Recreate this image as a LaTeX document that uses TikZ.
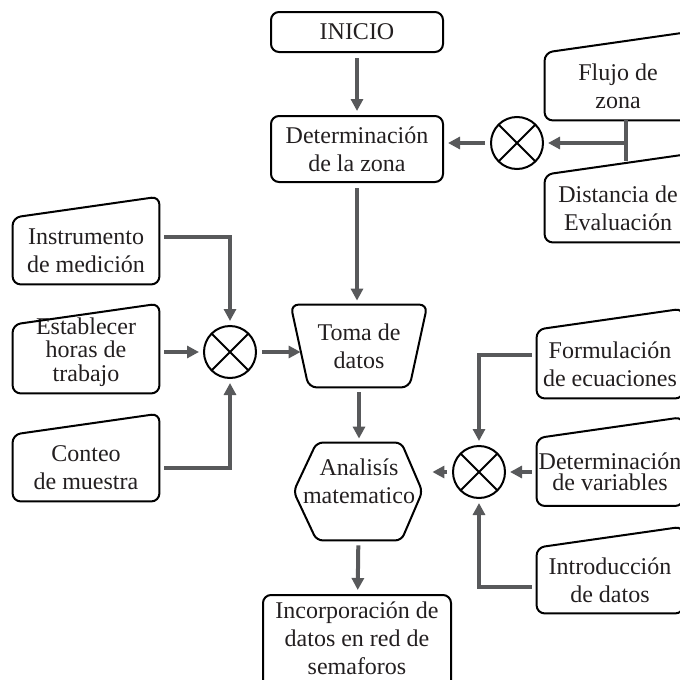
\documentclass[tikz,border=0pt]{standalone}
\usepackage{fontspec}
\setmainfont{Liberation Serif}
\usetikzlibrary{arrows.meta, positioning}
\definecolor{linegray}{RGB}{88,89,91}
\definecolor{textblack}{RGB}{35,31,32}

\tikzset{
  texto/.style={align=center, text=textblack, font=\fontsize{12}{14}\selectfont},
  bloque/.style={texto, minimum width=#1, inner sep=0pt},
  caja/.style={draw=black, line width=1pt, rounded corners=4pt},
  linea/.style={draw=linegray, line width=2pt},
  conexion/.style={linea, -{Triangle[length=6pt,width=6pt]}, shorten <=2.5pt, shorten >=2pt},
  mezcla/.style={circle, draw=black, line width=1pt, minimum size=26pt, inner sep=0pt,
    path picture={\draw[line width=1pt] (path picture bounding box.north west) -- (path picture bounding box.south east)
      (path picture bounding box.south west) -- (path picture bounding box.north east);}},
}

% manual input box: slanted top, drawn round the node
\newcommand{\entrada}[1]{\draw[caja] (#1.south west) -- (#1.north west) -- ([yshift=10.5pt]#1.north east) -- (#1.south east) -- cycle;}

\begin{document}
\begin{tikzpicture}[x=0.5pt, y=-0.5pt]
  \useasboundingbox (0,0) rectangle (680,680);

  % main column
  \node[bloque=86pt, minimum height=20pt, caja] (inicio) at (357,32) {INICIO};
  \node[bloque=86pt, minimum height=33pt, caja] (zona) at (357,149) {Determinación\\de la zona};
  \node[bloque=50pt, minimum height=41pt] (toma) at (359,346) {Toma de\\datos};
  \node[bloque=42pt, minimum height=48.5pt,
        label={[texto, yshift=5.25pt]center:{Analisís\\matematico}}] (analisis) at (359,491.5) {};
  \node[bloque=94pt, minimum height=50pt, caja,
        label={[texto, yshift=3.5pt]center:{Incorporación de\\datos en red de\\semaforos}}] (red) at (357,645) {};

  % inputs
  \node[bloque=73pt, minimum height=33.5pt] (flujo) at (618,86.5) {Flujo de\\zona};
  \node[bloque=73pt, minimum height=33.5pt] (distancia) at (618,208.5) {Distancia de\\Evaluación};
  \node[bloque=73pt, minimum height=33pt] (instrumento) at (86,251) {Instrumento\\de medición};
  \node[bloque=73pt, minimum height=34pt,
        label={[texto, yshift=3.5pt, font=\fontsize{12}{11.75}\selectfont]center:{Establecer\\horas de\\trabajo}}] (horas) at (86,359) {};
  \node[bloque=73pt, minimum height=33pt] (conteo) at (86,468) {Conteo\\de muestra};
  \node[bloque=73pt, minimum height=34pt] (formulacion) at (610,364) {Formulación\\de ecuaciones};
  \node[bloque=73pt, minimum height=33.5pt, font=\fontsize{12}{10.5}\selectfont] (variables) at (610,472) {Determinación\\de variables};
  \node[bloque=73pt, minimum height=32.5pt] (introduccion) at (610,580.5) {Introducción\\de datos};

  % summing points
  \foreach \n/\x/\y in {mixzona/517/143, mixdatos/230/352, mixmodelo/479/472}
    \node[mezcla] (\n) at (\x,\y) {};
  \coordinate (union) at (626,143);

  % draws the outlines
  \foreach \n in {flujo, distancia, instrumento, horas, conteo, formulacion, variables, introduccion}
    \entrada{\n};
  \draw[caja] (toma.south west) -- ([xshift=-9pt]toma.north west) -- ([xshift=9pt]toma.north east) -- (toma.south east) -- cycle;
  \draw[caja, rounded corners=3pt] (analisis.south west) -- ([xshift=-11.5pt]analisis.west) -- (analisis.north west)
    -- (analisis.north east) -- ([xshift=10.5pt]analisis.east) -- (analisis.south east) -- cycle;

  % draws the connectors
  \draw[conexion] (inicio) -- (zona);
  \draw[conexion] (zona) -- (zona |- toma.north);
  \draw[linea] (flujo.south -| union) -- ([yshift=-9pt]union);
  \draw[conexion, shorten <=0pt] (union) -- (mixzona);
  \draw[conexion] (mixzona) -- (mixzona -| zona.east);
  \draw[conexion] ([yshift=7pt]instrumento.east) -| (mixdatos);
  \draw[conexion] ([yshift=3.5pt]horas.east) -- (mixdatos);
  \draw[conexion] (conteo.east) -| (mixdatos);
  \draw[conexion] (mixdatos) -- ([xshift=-2pt]mixdatos -| toma.west);
  \draw[conexion] (toma) -- (analisis);
  \draw[conexion] ([yshift=4.5pt]formulacion.west) -| (mixmodelo);
  \draw[conexion] (variables) -- (mixmodelo);
  \draw[conexion] ([yshift=-3.25pt]introduccion.west) -| (mixmodelo);
  \draw[conexion] (mixmodelo) -- ([xshift=13.5pt]analisis.east |- mixmodelo);
  \draw[conexion] (analisis) -- (red);
\end{tikzpicture}
\end{document}
